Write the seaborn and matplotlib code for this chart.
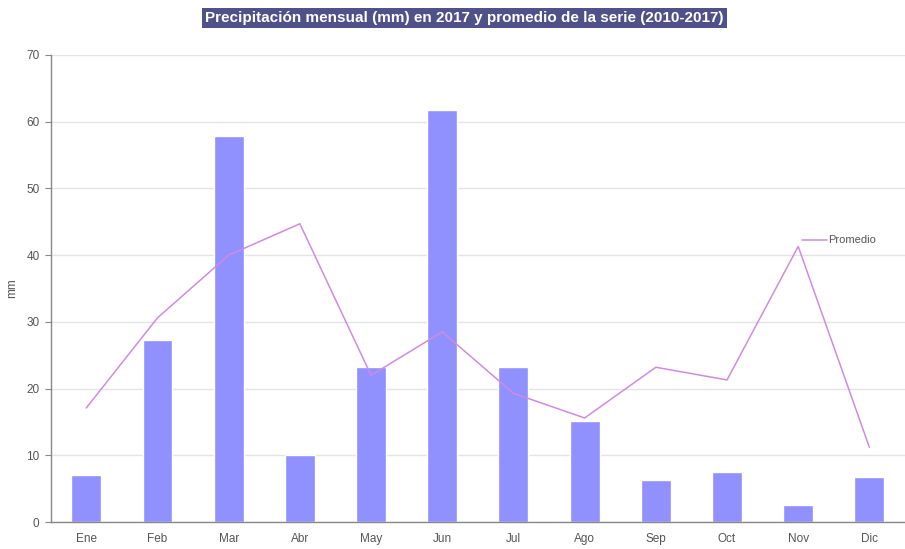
import matplotlib
matplotlib.use("Agg")
import matplotlib.pyplot as plt
import seaborn as sns
import pandas as pd

meses = ["Ene", "Feb", "Mar", "Abr", "May", "Jun", "Jul", "Ago", "Sep", "Oct", "Nov", "Dic"]
precip_2017 = [7.0, 27.3, 57.8, 10.0, 23.2, 61.8, 23.2, 15.1, 6.3, 7.5, 2.5, 6.7]
promedio = [17.1, 30.6, 40.0, 44.7, 22.0, 28.5, 19.3, 15.6, 23.2, 21.3, 41.3, 11.2]

df = pd.DataFrame({"mes": meses, "precip": precip_2017, "promedio": promedio})

sns.set_theme(style="white")
plt.rcParams["font.family"] = ["Liberation Sans", "DejaVu Sans"]

fig = plt.figure(figsize=(9.05, 5.49), dpi=100)
ax = fig.add_axes([0.056, 0.049, 0.944, 0.851])

sns.barplot(data=df, x="mes", y="precip", color="#9090ff", saturation=1,
            width=0.42, ax=ax, zorder=2)
sns.lineplot(x=range(len(meses)), y=promedio, color="#d08be0", linewidth=1.1,
             ax=ax, label="Promedio", zorder=3)

ax.set_ylim(0, 70)
ax.set_xlim(-0.5, 11.5)
ax.set_yticks(range(0, 71, 10))
ax.yaxis.grid(True, color="#e4e4e4", linewidth=1, zorder=0)
ax.set_axisbelow(True)

ax.set_xlabel("")
ax.set_ylabel("mm", fontsize=8.5, color="#555555", labelpad=6)
ax.tick_params(axis="both", labelsize=8.5, labelcolor="#555555", colors="#888888",
               length=4, width=0.8, direction="out")
ax.tick_params(axis="x", length=0, pad=8)
ax.tick_params(axis="y", left=True, pad=4)

for side in ("top", "right"):
    ax.spines[side].set_visible(False)
for side in ("left", "bottom"):
    ax.spines[side].set_color("#888888")
    ax.spines[side].set_linewidth(1.0)

leg = ax.legend(loc="upper left", bbox_to_anchor=(0.868, 0.635), frameon=False,
                fontsize=8, handlelength=2.2, handletextpad=0.1)
for t in leg.get_texts():
    t.set_color("#555555")

fig.text(0.513, 0.968, "Precipitación mensual (mm) en 2017 y promedio de la serie (2010-2017)",
         ha="center", va="center", fontsize=11, fontweight="bold", color="white",
         bbox=dict(boxstyle="square,pad=0.2", facecolor="#51518a", edgecolor="none"))

fig.savefig("out.png", dpi=100)
